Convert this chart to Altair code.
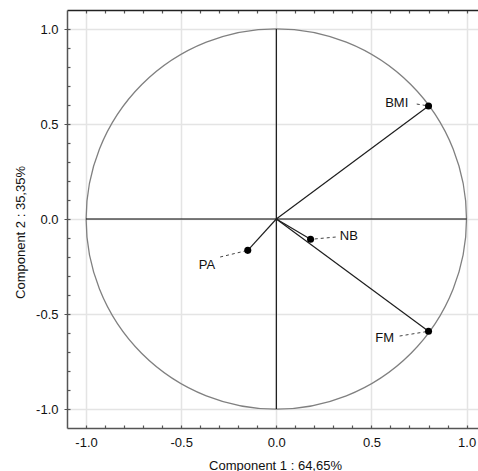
import altair as alt
import pandas as pd

# ---- data ----
variables = ["BMI", "NB", "PA", "FM"]
comp1 = [0.80, 0.18, -0.15, 0.80]
comp2 = [0.595, -0.107, -0.165, -0.591]
label_x = [0.633, 0.381, -0.364, 0.570]
label_y = [0.611, -0.089, -0.242, -0.624]
leader_x = [0.738, 0.312, -0.295, 0.648]
leader_y = [0.605, -0.095, -0.200, -0.616]

major_ticks = [-1.0, -0.5, 0.0, 0.5, 1.0]
minor_ticks = [-1.0, -0.9, -0.8, -0.7, -0.6, -0.5, -0.4, -0.3, -0.2, -0.1, 0.0,
               0.1, 0.2, 0.3, 0.4, 0.5, 0.6, 0.7, 0.8, 0.9, 1.0]

x_title = "Component 1 : 64,65%"
y_title = "Component 2 : 35,35%"

W, H = 411, 418
FONT = "Liberation Sans"
xs = alt.Scale(domain=[-1.1, 1.06], nice=False, zero=False)
ys = alt.Scale(domain=[-1.1, 1.1], nice=False, zero=False)
lab_expr = "datum.value < 0 ? '-' + format(-datum.value, '.1f') : format(datum.value, '.1f')"

df = pd.DataFrame({"var": variables, "x": comp1, "y": comp2,
                   "lx": label_x, "ly": label_y, "sx": leader_x, "sy": leader_y,
                   "ox": [0.0] * 4, "oy": [0.0] * 4})
centre = pd.DataFrame({"x": [0.0], "y": [0.0]})
cross = pd.DataFrame({"x1": [-1.0, 0.0], "x2": [1.0, 0.0], "y1": [0.0, -1.0], "y2": [0.0, 1.0]})

X1 = alt.Axis(orient="bottom", values=major_ticks, grid=True, gridColor="#e4e4e4", gridWidth=1.5,
              domainColor="#555555", domainWidth=1.5, ticks=False, tickSize=0, labelPadding=8,
              labelFont=FONT, labelFontSize=13, labelColor="#111111", labelExpr=lab_expr,
              titleFont=FONT, titleFontSize=13, titleFontWeight="normal", titleColor="#111111",
              titleX=208, titleY=41, titleBaseline="alphabetic", titleAlign="center")
Y1 = alt.Axis(orient="left", values=major_ticks, grid=True, gridColor="#e4e4e4", gridWidth=1.5,
              domainColor="#555555", domainWidth=1.5, ticks=True, tickSize=3, tickColor="#555555",
              labelPadding=6, labelFont=FONT, labelFontSize=13, labelColor="#111111", labelExpr=lab_expr,
              titleFont=FONT, titleFontSize=13, titleFontWeight="normal", titleColor="#111111",
              titleX=-43, titleY=222, titleAngle=270, titleBaseline="alphabetic", titleAlign="center")
X2 = alt.Axis(orient="top", offset=-H, values=minor_ticks, grid=False, domain=False, labels=False,
              ticks=True, tickSize=3, tickColor="#555555", tickWidth=1.2)
X3 = alt.Axis(orient="bottom", offset=-H, values=minor_ticks, grid=False, domain=True,
              domainColor="#222222", domainWidth=1.5, labels=False,
              ticks=True, tickSize=3, tickColor="#555555", tickWidth=1.2)
Y2 = alt.Axis(orient="right", offset=-W, values=minor_ticks, grid=False, domain=False, labels=False,
              ticks=True, tickSize=3, tickColor="#555555", tickWidth=1.2)

# unit circle: Vega circle symbol radius = sqrt(size) / 2, radius of 1.0 unit ~ 190.2 px
circle = alt.Chart(centre).mark_point(shape="circle", size=144700, filled=False, color="#808080",
                                      strokeWidth=1.3, opacity=1).encode(
    x=alt.X("x:Q", scale=xs, axis=X1, title=x_title),
    y=alt.Y("y:Q", scale=ys, axis=Y1, title=y_title),
)

cross_lines = alt.Chart(cross).mark_rule(color="#000000", strokeWidth=1.1).encode(
    x=alt.X("x1:Q", scale=xs, axis=X2, title=""),
    x2="x2:Q",
    y=alt.Y("y1:Q", scale=ys, axis=Y2, title=""),
    y2="y2:Q",
)

vectors = alt.Chart(df).mark_rule(color="#1e1e1e", strokeWidth=1.2).encode(
    x=alt.X("ox:Q", scale=xs, axis=X3, title=""),
    x2="x:Q",
    y=alt.Y("oy:Q", scale=ys, axis=None),
    y2="y:Q",
)

leaders = alt.Chart(df).mark_rule(color="#444444", strokeWidth=1, strokeDash=[3, 3]).encode(
    x=alt.X("sx:Q", scale=xs, axis=None),
    x2="x:Q",
    y=alt.Y("sy:Q", scale=ys, axis=None),
    y2="y:Q",
)

points = alt.Chart(df).mark_point(filled=True, size=50, color="#000000", opacity=1).encode(
    x=alt.X("x:Q", scale=xs, axis=None),
    y=alt.Y("y:Q", scale=ys, axis=None),
)

labels = alt.Chart(df).mark_text(font=FONT, fontSize=13, color="#111111",
                                 align="center", baseline="middle").encode(
    x=alt.X("lx:Q", scale=xs, axis=None),
    y=alt.Y("ly:Q", scale=ys, axis=None),
    text="var:N",
)

chart = alt.layer(circle, cross_lines, vectors, leaders, points, labels).properties(
    width=W, height=H,
    autosize=alt.AutoSizeParams(type="none"),
    padding={"left": 67, "top": 10, "right": 0, "bottom": 43},
    background="white",
).configure_view(stroke=None)

chart.save("out.html", embed_options={"renderer": "svg", "actions": False})
